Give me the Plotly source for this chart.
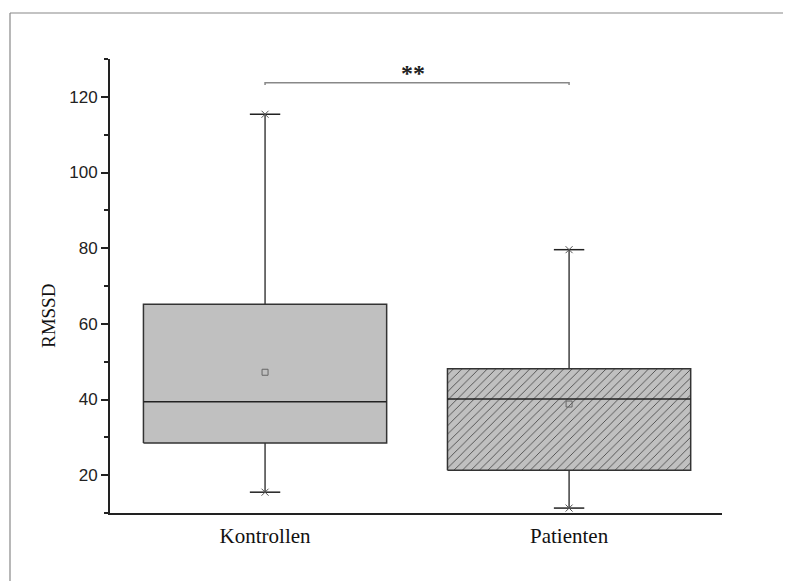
import plotly.graph_objects as go

categories = ["Kontrollen", "Patienten"]
positions = [1, 2]
q1 = [28.5, 21.3]
median = [39.4, 40.1]
q3 = [65.2, 48.1]
lower = [15.5, 11.3]
upper = [115.4, 79.6]
mean = [47.2, 38.8]
hatched = [False, True]
significance = "**"
y_title = "RMSSD"
y_ticks = [20, 40, 60, 80, 100, 120]

BOX_HALF = 0.4
CAP_HALF = 0.05

fig = go.Figure()

for i, cat in enumerate(categories):
    x = positions[i]
    # whiskers
    fig.add_trace(go.Scatter(
        x=[x, x, None, x, x],
        y=[q3[i], upper[i], None, q1[i], lower[i]],
        mode="lines", line=dict(color="#111", width=1.2),
        showlegend=False, hoverinfo="skip"))
    # caps
    fig.add_trace(go.Scatter(
        x=[x - CAP_HALF, x + CAP_HALF, None, x - CAP_HALF, x + CAP_HALF],
        y=[upper[i], upper[i], None, lower[i], lower[i]],
        mode="lines", line=dict(color="#222", width=1.5),
        showlegend=False, hoverinfo="skip"))
    fig.add_trace(go.Scatter(
        x=[x, x], y=[lower[i], upper[i]], mode="markers",
        marker=dict(symbol="x-thin", size=7, line=dict(color="#555", width=1)),
        showlegend=False, hoverinfo="skip"))
    # box
    box_kwargs = dict(
        x=[x - BOX_HALF, x + BOX_HALF, x + BOX_HALF, x - BOX_HALF, x - BOX_HALF],
        y=[q1[i], q1[i], q3[i], q3[i], q1[i]],
        mode="lines", fill="toself", fillcolor="#c0c0c0",
        line=dict(color="#333", width=1.5),
        showlegend=False, name=cat, hoverinfo="skip")
    if hatched[i]:
        box_kwargs["fillpattern"] = dict(shape="/", fgcolor="#4a4a4a", bgcolor="#c0c0c0",
                                         size=6, solidity=0.15, fillmode="replace")
    fig.add_trace(go.Scatter(**box_kwargs))
    # median
    fig.add_trace(go.Scatter(
        x=[x - BOX_HALF, x + BOX_HALF], y=[median[i], median[i]],
        mode="lines", line=dict(color="#222", width=1.5),
        showlegend=False, hoverinfo="skip"))
    # mean
    fig.add_trace(go.Scatter(
        x=[x], y=[mean[i]], mode="markers",
        marker=dict(symbol="square-open", size=6, color="#666", line=dict(width=1)),
        showlegend=False, hoverinfo="skip"))

# significance bracket
bracket_y = 123.7
fig.add_trace(go.Scatter(
    x=[positions[0], positions[0], positions[1], positions[1]],
    y=[bracket_y - 0.6, bracket_y, bracket_y, bracket_y - 0.6],
    mode="lines", line=dict(color="#888", width=1.5),
    showlegend=False, hoverinfo="skip"))
fig.add_annotation(x=(positions[0] + positions[1]) / 2 - 0.012, y=bracket_y,
                   text="<b>" + significance + "</b>",
                   showarrow=False, yanchor="bottom", yshift=-5,
                   font=dict(family="Liberation Serif", size=24, color="#222"))

# y-axis title (placed slightly below centre, as in the original)
fig.add_annotation(xref="paper", yref="paper", x=-0.0996, y=0.434, text=y_title,
                   textangle=-90, showarrow=False, xanchor="center", yanchor="middle",
                   font=dict(family="Liberation Serif", size=19, color="#111"))

# outer frame
fig.add_shape(type="line", xref="paper", yref="paper",
              x0=-0.1634, x1=1.2, y0=1.1013, y1=1.1013,
              line=dict(color="#888", width=1.2))
fig.add_shape(type="line", xref="paper", yref="paper",
              x0=-0.1634, x1=-0.1634, y0=1.1013, y1=-0.2,
              line=dict(color="#888", width=1.2))

fig.update_layout(
    width=791, height=581,
    margin=dict(l=102, r=77, t=51, b=76),
    paper_bgcolor="white", plot_bgcolor="white",
    showlegend=False,
)
fig.update_xaxes(
    range=[0.49, 2.503], tickvals=positions, ticktext=categories,
    showgrid=False, zeroline=False, showline=True, linecolor="#222", linewidth=2,
    ticks="", ticklabelstandoff=3,
    tickfont=dict(family="Liberation Serif", size=21, color="#111"),
)
fig.update_yaxes(
    range=[10, 130], tickvals=y_ticks,
    showgrid=False, zeroline=False, showline=True, linecolor="#222", linewidth=2,
    ticks="outside", ticklen=7, tickwidth=1.5, tickcolor="#222",
    minor=dict(ticks="outside", ticklen=4, tickwidth=1.5, tickcolor="#222", dtick=10, tick0=0),
    tickfont=dict(family="Liberation Sans", size=17, color="#222"),
)

fig.write_html("out.html")
